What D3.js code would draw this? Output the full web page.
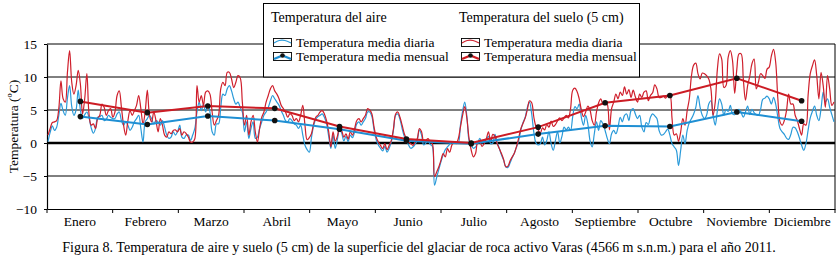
<!DOCTYPE html>
<html>
<head>
<meta charset="utf-8">
<script src="https://cdn.jsdelivr.net/npm/d3@7"></script>
<style>
  body { margin: 0; background: #fff; }
  svg { display: block; }
  text { font-family: "Liberation Serif", "Times New Roman", serif; fill: #000; }
</style>
</head>
<body>
<div id="chart"></div>
<script>

const months = ['Enero', 'Febrero', 'Marzo', 'Abril', 'Mayo', 'Junio', 'Julio', 'Agosto', 'Septiembre', 'Octubre', 'Noviembre', 'Diciembre'];
const monthLength = [31, 28, 31, 30, 31, 30, 31, 31, 30, 31, 30, 31];
const yTicks = [-10, -5, 0, 5, 10, 15];

// temperatura del aire, media diaria (ºC)
const airDaily = [
  0.2, 1.6, 2.6, 1.9, 2.4, 4.2, 6.0, 4.9, 4.2, 6.8, 8.7, 5.5, 4.2, 5.0, 8.0, 5.0, 3.7, 4.3, 4.7, 3.8, 2.3, 1.5, 2.2, 3.9, 4.0, 4.2, 3.4, 3.6, 4.2, 3.9, 3.7,
  3.7, 4.4, 4.7, 3.4, 2.7, 3.2, 2.7, 1.9, 2.4, 3.2, 3.7, 4.2, 2.2, 0.15, 3.2, 3.7, 4.2, 3.7, 2.9, 3.4, 3.2, 2.7, 3.4, 2.4, 1.2, 0.7, 0.9, 1.7,
  1.2, 1.7, 2.7, 0.9, 0.7, 1.2, 1.2, 0.4, 1.2, 2.2, 4.7, 6.2, 4.9, 5.9, 4.7, 5.9, 4.7, 1.7, 1.2, 2.9, 2.9, 5.4, 7.4, 7.2, 8.2, 8.7, 7.9, 6.7, 5.9, 6.2, 5.4,
  4.7, 1.7, 3.2, 0.7, 2.2, 3.2, 0.7, 0.9, 2.2, 3.2, 4.2, 4.7, 5.4, 6.4, 7.2, 6.7, 6.2, 5.7, 4.9, 4.2, 3.4, 3.2, 3.7, 3.4, 2.9, 2.7, 2.2, 2.7, 1.2, -0.35,
  -1.0, -1.4, 0.8, 2.6, 3.6, 4.0, 4.2, 4.4, 3.9, 2.9, 1.0, -0.8, 1.2, -0.8, 0.5, 2.0, 1.5, 0.3, 1.0, 0.2, 1.2, 0.8, 1.7, 2.9, 3.2, 2.7, 3.2, 3.7, 4.7, 4.7, 4.0,
  2.0, 0.5, -0.3, -0.8, -1.2, -0.5, -1.4, -0.8, 0.2, 2.0, 4.2, 4.4, 3.6, 2.2, 1.0, 0.3, -0.3, -0.8, -0.6, -0.2, 0.4, 2.0, 1.2, -0.3, 0.0, 0.3, -0.2, -0.5, -6.4, -5.2,
  -4.0, -2.8, -1.8, -1.0, -0.6, -0.2, 0.2, 0.0, 0.2, 0.0, 2.7, 4.8, 6.2, 4.0, 0.4, -0.3, -0.8, -0.6, 0.0, 0.7, 0.0, 0.3, 0.6, 1.0, -0.1, 0.0, 1.3, 0.1, -0.8, -1.8, -2.6,
  -3.6, -3.7, -3.0, -2.2, -1.5, -0.6, 0.4, 2.0, 3.1, 3.9, 5.4, 6.2, 4.4, 1.6, 0.0, -0.3, -0.1, 0.9, -0.3, 0.4, 1.7, -0.1, -1.1, 0.4, 1.7, 0.0, 1.0, 2.4, 2.0, 2.4, 1.9,
  4.0, 5.5, 5.2, 5.9, 3.9, 2.7, 4.2, 2.9, 0.4, -0.6, 1.4, 3.2, 1.9, 3.4, 2.9, 1.9, 0.7, -0.1, 1.4, 1.9, 1.4, 2.4, 3.9, 3.2, 4.2, 4.4, 3.4, 4.9, 5.2, 4.4,
  3.7, 4.2, 2.4, 1.7, 3.1, 2.8, 3.9, 4.4, 4.1, 3.7, 1.9, 1.2, 1.3, 1.7, 2.1, 1.2, -0.1, -0.6, -1.1, -3.4, -1.1, 1.2, -0.1, 1.9, 3.1, 3.7, 4.4, 5.4, 7.2, 5.4, 4.2,
  3.7, 4.2, 5.9, 6.4, 4.2, 2.7, 4.9, 6.7, 5.9, 4.2, 5.1, 4.8, 5.7, 4.4, 4.3, 4.9, 5.1, 4.6, 3.9, 4.7, 5.6, 4.3, 5.1, 4.6, 4.3, 4.2, 5.1, 6.6, 6.8, 7.1,
  6.7, 5.9, 6.9, 5.9, 3.9, 2.2, 1.7, 1.3, 0.75, 0.55, 1.3, 2.4, 2.3, 1.7, 0.75, -0.35, -1.1, -0.1, 1.9, 3.8, 4.8, 5.6, 4.2, 3.4, 5.2, 7.7, 6.2, 6.7, 5.4, 4.3, 3.2
];

// temperatura del suelo (5 cm), media diaria (ºC)
const soilDaily = [
  1.2, 2.2, 3.1, 3.2, 3.4, 5.2, 9.4, 6.7, 6.2, 10.7, 14.0, 9.2, 7.4, 8.7, 11.0, 8.9, 4.4, 6.7, 10.5, 4.4, 2.7, 2.9, 2.2, 3.7, 4.2, 5.9, 5.4, 4.2, 4.9, 5.2, 3.9,
  4.7, 7.2, 7.9, 5.4, 2.7, 1.2, 3.4, 4.9, 4.2, 4.9, 5.7, 7.2, 5.2, 2.9, 4.7, 8.0, 4.2, 3.2, 4.7, 3.4, 1.7, 3.7, 2.7, 1.2, 0.9, 1.7, 1.4, 1.9,
  2.0, 1.7, 2.2, 1.2, 1.7, 1.4, 0.9, 0.15, 0.15, 0.65, 8.7, 6.2, 7.2, 5.7, 7.7, 7.9, 7.4, 4.7, 2.7, 3.4, 4.2, 8.2, 9.2, 8.7, 10.7, 10.7, 9.7, 8.4, 9.2, 10.2, 9.9,
  6.2, 2.7, 4.2, 1.2, 3.2, 4.2, 1.7, 0.15, 2.2, 3.9, 4.7, 6.2, 7.2, 8.2, 8.7, 7.9, 7.4, 6.7, 5.7, 5.2, 4.7, 3.9, 4.4, 4.2, 3.4, 3.7, 3.2, 4.2, 5.7, 2.7,
  0.5, 0.8, 1.4, 2.9, 3.9, 4.2, 4.7, 4.9, 4.4, 3.4, 1.7, -0.6, 1.7, 0.3, 1.0, 2.4, 1.9, 0.9, 1.4, 0.6, 1.7, 1.2, 2.2, 3.4, 3.7, 3.2, 3.7, 4.2, 5.2, 5.0, 4.4,
  2.4, 0.9, 0.15, -0.35, -0.85, -0.1, -1.0, -0.35, 0.4, 2.2, 4.4, 4.7, 3.9, 2.7, 1.4, 0.65, 0.15, -0.1, -0.35, 0.15, 0.65, 2.2, 1.7, 0.15, 0.4, 0.65, 0.15, -0.1, -5.1, -4.4,
  -3.6, -2.6, -1.6, -2.1, -0.85, -1.4, -0.35, 0.15, -0.1, 0.65, 2.4, 4.2, 5.5, 3.7, 0.65, -1.1, -2.1, -1.6, 0.15, 0.15, -0.5, -0.1, 0.65, 1.7, 0.15, 1.3, 1.0, -0.1, -0.85, -1.6, -2.5,
  -3.6, -3.5, -2.7, -2.1, -1.5, -0.5, 0.8, 2.2, 3.0, 3.8, 5.1, 6.4, 6.1, 3.9, 2.5, 2.0, 1.5, 2.3, 2.0, 2.8, 2.4, 3.3, 2.5, 2.8, 3.4, 3.8, 3.4, 3.8, 4.2, 3.8, 5.2,
  8.0, 8.3, 7.8, 6.7, 5.0, 4.0, 4.7, 5.6, 5.0, 3.4, 2.7, 4.7, 6.1, 6.7, 5.9, 6.2, 5.9, 2.0, 5.2, 6.2, 7.4, 6.7, 7.7, 7.2, 8.5, 7.4, 8.1, 6.9, 8.0, 7.0,
  6.2, 7.4, 6.9, 7.7, 7.9, 6.4, 7.2, 7.6, 8.8, 8.2, 6.9, 6.9, 7.1, 6.8, 7.2, 7.3, 3.7, 1.2, 1.4, 0.25, 1.7, 3.7, 2.7, 4.9, 6.7, 10.2, 11.8, 12.1, 10.5, 9.7, 10.6,
  10.5, 10.2, 9.7, 8.2, 4.2, 6.2, 11.2, 13.5, 12.7, 8.4, 8.7, 13.0, 14.0, 12.5, 7.5, 11.2, 13.5, 13.5, 9.7, 6.5, 8.7, 10.1, 12.0, 12.7, 8.2, 9.2, 10.5, 10.2, 9.8, 11.2,
  11.5, 13.2, 14.2, 12.2, 6.7, 3.2, 2.7, 3.4, 4.9, 7.4, 5.9, 5.9, 4.2, 3.4, 2.2, 1.2, 2.9, 2.7, 7.2, 10.5, 11.7, 12.6, 10.2, 6.7, 10.7, 8.7, 5.4, 10.2, 8.2, 5.7, 6.2
];

// medias mensuales (ºC)
const airMonthly = [4.0, 2.8, 4.1, 3.4, 2.1, 0.35, -0.1, 1.35, 2.6, 2.5, 4.7, 3.3];
const soilMonthly = [6.3, 4.6, 5.6, 5.25, 2.5, 0.6, 0.0, 2.4, 6.1, 7.2, 9.8, 6.4];

const blueDaily = '#2a9ad9';
const redDaily = '#cf1f2c';
const blueMonthly = '#1f8fd3';
const redMonthly = '#cc1c24';

var width = 840;
var height = 261;
var plot = { left: 47, right: 835, top: 44, bottom: 209 };

var svg = d3.select('#chart').append('svg')
    .attr('width', width)
    .attr('height', height);

var x = d3.scaleLinear()
    .domain([0, airDaily.length - 1])
    .range([plot.left + 1, plot.right - 1]);

var y = d3.scaleLinear()
    .domain([-10, 15])
    .range([plot.bottom, plot.top]);

var monthScale = d3.scaleBand()
    .domain(months)
    .range([plot.left, plot.right]);

// first day of each month, and the day used for the monthly mean
var monthStart = d3.cumsum([0].concat(monthLength.slice(0, -1)));
var monthMid = monthStart.map(s => s + 15);

// grid lines
svg.append('g').selectAll('line')
    .data(yTicks.filter(t => t > -10))
    .enter()
    .append('line')
    .attr('x1', plot.left).attr('x2', plot.right)
    .attr('y1', d => y(d)).attr('y2', d => y(d))
    .attr('stroke', '#000')
    .attr('stroke-width', d => d === 0 ? 2.6 : 1);

// right border
svg.append('line')
    .attr('x1', plot.right).attr('x2', plot.right)
    .attr('y1', plot.top).attr('y2', plot.bottom)
    .attr('stroke', '#000');

// y axis
var yAxis = svg.append('g')
    .attr('transform', `translate(${plot.left},0)`)
    .call(d3.axisLeft(y).tickValues(yTicks).tickSize(3).tickSizeOuter(0).tickPadding(7));
yAxis.selectAll('text').style('font-size', '13.5px').style('font-family', '"Liberation Serif", serif');
yAxis.select('.domain').attr('stroke-width', 1.2);

// x axis (month labels between ticks)
var xAxis = svg.append('g')
    .attr('transform', `translate(0,${plot.bottom})`)
    .call(d3.axisBottom(monthScale).tickSize(0).tickSizeOuter(0).tickPadding(7));
xAxis.selectAll('text').style('font-size', '13.5px').style('font-family', '"Liberation Serif", serif');
xAxis.select('.domain').attr('stroke-width', 1.2);

xAxis.selectAll('.month-tick')
    .data(months.map(m => monthScale(m)).concat([plot.right]))
    .enter()
    .append('line')
    .attr('class', 'month-tick')
    .attr('x1', d => d).attr('x2', d => d)
    .attr('y1', 0).attr('y2', 4)
    .attr('stroke', '#000');

// daily series
var dailyLine = d3.line()
    .x((d, i) => x(i))
    .y(d => y(d))
    .curve(d3.curveCatmullRom.alpha(0.5));

svg.append('path')
    .datum(airDaily)
    .attr('d', dailyLine)
    .attr('fill', 'none')
    .attr('stroke', blueDaily)
    .attr('stroke-width', 1.2);

svg.append('path')
    .datum(soilDaily)
    .attr('d', dailyLine)
    .attr('fill', 'none')
    .attr('stroke', redDaily)
    .attr('stroke-width', 1.2);

// monthly means
var monthlyLine = d3.line()
    .x((d, i) => x(monthMid[i]))
    .y(d => y(d));

[[airMonthly, blueMonthly], [soilMonthly, redMonthly]].forEach(([values, color]) => {
    svg.append('path')
        .datum(values)
        .attr('d', monthlyLine)
        .attr('fill', 'none')
        .attr('stroke', color)
        .attr('stroke-width', 2);
});

[airMonthly, soilMonthly].forEach(values => {
    svg.append('g').selectAll('circle')
        .data(values)
        .enter()
        .append('circle')
        .attr('cx', (d, i) => x(monthMid[i]))
        .attr('cy', d => y(d))
        .attr('r', 2.8)
        .attr('fill', '#111');
});

// legend
var legend = svg.append('g');

legend.append('rect')
    .attr('x', 263.5).attr('y', 3.5)
    .attr('width', 376).attr('height', 73.5)
    .attr('fill', '#fff')
    .attr('stroke', '#000');

var legendCols = [
    { x: 271, title: 'Temperatura del aire', daily: blueDaily, monthly: blueMonthly },
    { x: 459, title: 'Temperatura del suelo (5 cm)', daily: redDaily, monthly: redMonthly }
];

legendCols.forEach(c => {
    legend.append('text')
        .attr('x', c.x).attr('y', 22)
        .style('font-size', '14px')
        .text(c.title);

    // daily icon
    var ix = c.x + 2, iy = 38;
    legend.append('rect')
        .attr('x', ix + 0.5).attr('y', iy + 0.5)
        .attr('width', 18).attr('height', 8)
        .attr('fill', '#fff').attr('stroke', '#000').attr('stroke-width', 0.9);
    legend.append('path')
        .attr('d', d3.line().curve(d3.curveBasis)([[ix + 1, iy + 5], [ix + 6, iy + 2], [ix + 12, iy + 2], [ix + 18, iy + 5]]))
        .attr('fill', 'none').attr('stroke', c.daily).attr('stroke-width', 1.1);
    legend.append('text')
        .attr('x', c.x + 25).attr('y', 47)
        .style('font-size', '13.5px')
        .text('Temperatura media diaria');

    // monthly icon
    iy = 52;
    legend.append('rect')
        .attr('x', ix + 0.5).attr('y', iy + 0.5)
        .attr('width', 18).attr('height', 8)
        .attr('fill', '#fff').attr('stroke', '#000').attr('stroke-width', 0.9);
    legend.append('path')
        .attr('d', d3.line()([[ix + 1, iy + 7], [ix + 9.5, iy + 3.5], [ix + 18, iy + 7]]))
        .attr('fill', 'none').attr('stroke', c.monthly).attr('stroke-width', 2.4);
    legend.append('circle')
        .attr('cx', ix + 9.5).attr('cy', iy + 3.5).attr('r', 2.3).attr('fill', '#111');
    legend.append('text')
        .attr('x', c.x + 25).attr('y', 61)
        .style('font-size', '13.5px')
        .text('Temperatura media mensual');
});

// y title
svg.append('text')
    .attr('transform', `translate(18,${(plot.top + plot.bottom) / 2}) rotate(-90)`)
    .attr('text-anchor', 'middle')
    .style('font-size', '13.5px')
    .text('Temperatura (ºC)');

// caption
svg.append('text')
    .attr('x', 419).attr('y', 252)
    .attr('text-anchor', 'middle')
    .style('font-size', '14.1px')
    .text('Figura 8. Temperatura de aire y suelo (5 cm) de la superficie del glaciar de roca activo Varas (4566 m s.n.m.) para el año 2011.');

</script>
</body>
</html>
